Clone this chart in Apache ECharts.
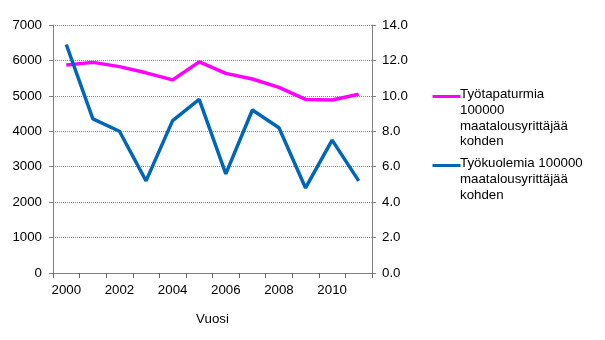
<!DOCTYPE html>
<html><head><meta charset="utf-8">
<script src="https://cdn.jsdelivr.net/npm/echarts@6/dist/echarts.min.js"></script>
<style>html,body{margin:0;padding:0;background:#fff}#c{width:605px;height:340px}</style>
</head><body><div id="c"></div>
<script>
var years = ['2000','2001','2002','2003','2004','2005','2006','2007','2008','2009','2010','2011'];
var accidents = [5870, 5945, 5825, 5650, 5450, 5960, 5635, 5475, 5240, 4900, 4885, 5045];
var deaths = [12.9, 8.7, 8.0, 5.2, 8.6, 9.8, 5.6, 9.2, 8.2, 4.8, 7.5, 5.2];
var leftTicks = [0, 1000, 7000];
var rightTicks = [0, 2, 14];
var seriesNames = ['Työtapaturmia 100000 maatalousyrittäjää kohden', 'Työkuolemia 100000 maatalousyrittäjää kohden'];
var legendLines = [['Työtapaturmia','100000','maatalousyrittäjää','kohden'], ['Työkuolemia 100000','maatalousyrittäjää','kohden']];
var colors = ['#ff00ff', '#0066b8'];

var chart = echarts.init(document.getElementById('c'), null, {renderer:'canvas'});
var font = 'Liberation Sans, Arial, sans-serif';
var fs = 13.3;
var axisLineStyle = {color:'#808080', width:1};
function legendGraphic(i, top) {
  return [
    {type:'line', left:430, top:top, shape:{x1:0,y1:0,x2:28,y2:0}, style:{stroke:colors[i], lineWidth:3}},
    {type:'text', left:460, top:top-7, style:{text:legendLines[i].join('\n'), font:fs+'px '+font, fill:'#000', lineHeight:15.6}}
  ];
}
chart.setOption({
  animation:false,
  textStyle:{fontFamily:font},
  grid:{left:53, right:233, top:25, bottom:67},
  xAxis:{
    type:'category', data:years, boundaryGap:true,
    name:'Vuosi', nameLocation:'middle', nameGap:40,
    nameTextStyle:{fontSize:fs, color:'#000', fontFamily:font},
    axisLine:{lineStyle:axisLineStyle},
    axisTick:{show:true, interval:0, length:5, lineStyle:{color:'#666', width:1}},
    axisLabel:{interval:1, color:'#000', fontSize:fs, margin:11, fontFamily:font},
    splitLine:{show:false}
  },
  yAxis:[{
    type:'value', min:leftTicks[0], max:leftTicks[2], interval:leftTicks[1], position:'left',
    axisLine:{show:true, lineStyle:axisLineStyle},
    axisTick:{show:true, length:4, lineStyle:axisLineStyle},
    axisLabel:{color:'#000', fontSize:fs, margin:11, fontFamily:font, formatter:function(v){return String(v);}},
    splitLine:{show:true, lineStyle:{type:'dotted', color:'#888', width:1}}
  },{
    type:'value', min:rightTicks[0], max:rightTicks[2], interval:rightTicks[1], position:'right',
    axisLine:{show:true, lineStyle:axisLineStyle},
    axisTick:{show:true, length:4, lineStyle:axisLineStyle},
    axisLabel:{color:'#000', fontSize:fs, margin:10, fontFamily:font, formatter:function(v){return v.toFixed(1);}},
    splitLine:{show:false}
  }],
  series:[{
    name:seriesNames[0], type:'line', yAxisIndex:0, data:accidents, symbol:'none',
    lineStyle:{color:colors[0], width:3.5}, itemStyle:{color:colors[0]}
  },{
    name:seriesNames[1], type:'line', yAxisIndex:1, data:deaths, symbol:'none',
    lineStyle:{color:colors[1], width:3.5}, itemStyle:{color:colors[1]}
  }],
  graphic:legendGraphic(0, 94).concat(legendGraphic(1, 163))
});
</script></body></html>
